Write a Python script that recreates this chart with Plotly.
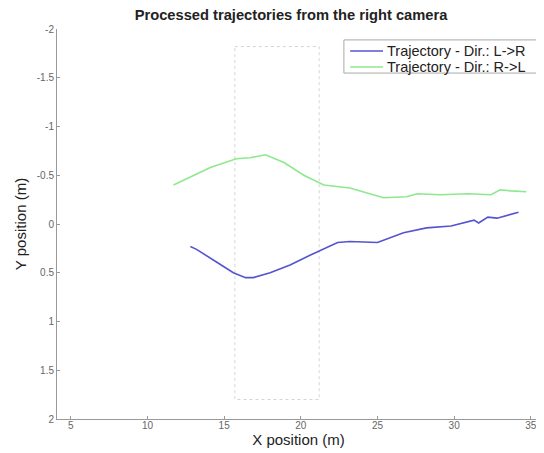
import plotly.graph_objects as go

# Trajectory L->R (blue)
lr_x = [12.8, 13.2, 14.5, 15.6, 16.4, 16.9, 18.0, 19.3, 20.6, 22.4, 23.2, 25.0, 26.7, 28.2, 29.8, 30.6, 31.3, 31.6, 32.2, 32.8, 33.5, 33.9, 34.2]
lr_y = [0.23, 0.26, 0.39, 0.50, 0.55, 0.55, 0.50, 0.42, 0.32, 0.19, 0.18, 0.19, 0.09, 0.04, 0.02, -0.01, -0.04, -0.01, -0.07, -0.06, -0.09, -0.10, -0.12]

# Trajectory R->L (green)
rl_x = [11.7, 14.1, 15.8, 16.7, 17.7, 18.9, 20.2, 21.5, 23.2, 24.3, 25.4, 26.9, 27.6, 29.1, 30.9, 32.4, 33.0, 33.7, 34.7]
rl_y = [-0.40, -0.58, -0.67, -0.68, -0.71, -0.63, -0.50, -0.40, -0.37, -0.32, -0.27, -0.28, -0.31, -0.30, -0.31, -0.30, -0.35, -0.34, -0.33]

# Camera region (dotted box)
region_x = [15.7, 21.2]
region_y = [-1.82, 1.8]

x_ticks = [5, 10, 15, 20, 25, 30, 35]
y_ticks = [-2, -1.5, -1, -0.5, 0, 0.5, 1, 1.5, 2]
y_tick_text = ["-2", "-1.5", "-1", "-0.5", "0", "0.5", "1", "1.5", "2"]

series_names = ["Trajectory - Dir.: L->R", "Trajectory - Dir.: R->L"]
series_colors = ["#5454d0", "#8ee88e"]

fig = go.Figure()
fig.add_trace(go.Scatter(x=lr_x, y=lr_y, mode="lines", name=series_names[0],
                         line=dict(color=series_colors[0], width=1.6)))
fig.add_trace(go.Scatter(x=rl_x, y=rl_y, mode="lines", name=series_names[1],
                         line=dict(color=series_colors[1], width=1.6)))

fig.add_shape(type="rect", xref="x", yref="y",
              x0=region_x[0], x1=region_x[1], y0=region_y[0], y1=region_y[1],
              line=dict(color="#d4d4d4", width=1, dash="dot"), layer="below")

# Legend drawn in paper coordinates (compact, MATLAB-like)
fig.add_shape(type="rect", xref="paper", yref="paper", x0=0.594, x1=0.998, y0=0.887, y1=0.972,
              line=dict(color="#a8a8a8", width=1), fillcolor="white")
leg_rows = [0.9436, 0.9026]
for name, color, yy in zip(series_names, series_colors, leg_rows):
    fig.add_shape(type="line", xref="paper", yref="paper", x0=0.607, x1=0.675, y0=yy, y1=yy,
                  line=dict(color=color, width=1.6))
    fig.add_annotation(xref="paper", yref="paper", x=0.681, y=yy, xanchor="left", yanchor="middle",
                       text=name, showarrow=False, borderpad=0,
                       font=dict(size=14.5, color="#222"))

fig.update_layout(
    width=536, height=445,
    margin=dict(l=49, r=4, t=21, b=34),
    paper_bgcolor="white", plot_bgcolor="white",
    font=dict(family="Liberation Sans, Arial, sans-serif", color="#222"),
    title=dict(text="<b>Processed trajectories from the right camera</b>",
               x=0.528, xanchor="center", y=0.984, yanchor="middle",
               font=dict(size=14.7, color="#222")),
    showlegend=False,
)
fig.update_xaxes(range=[4.1, 35.6], tickvals=x_ticks, ticks="inside", ticklen=3,
                 tickcolor="#999", showline=True, linecolor="#999", linewidth=1,
                 showgrid=False, zeroline=False, tickfont=dict(size=10, color="#666"),
                 ticklabelstandoff=-3,
                 title=dict(text="X position (m)", font=dict(size=15, color="#222"), standoff=4))
fig.update_yaxes(range=[2, -2], tickvals=y_ticks, ticktext=y_tick_text, ticks="inside", ticklen=3,
                 tickcolor="#999", showline=True, linecolor="#999", linewidth=1,
                 showgrid=False, zeroline=False, tickfont=dict(size=10, color="#666"),
                 title=dict(text="Y position (m)", font=dict(size=15, color="#222"), standoff=6))

fig.write_html("out.html")
